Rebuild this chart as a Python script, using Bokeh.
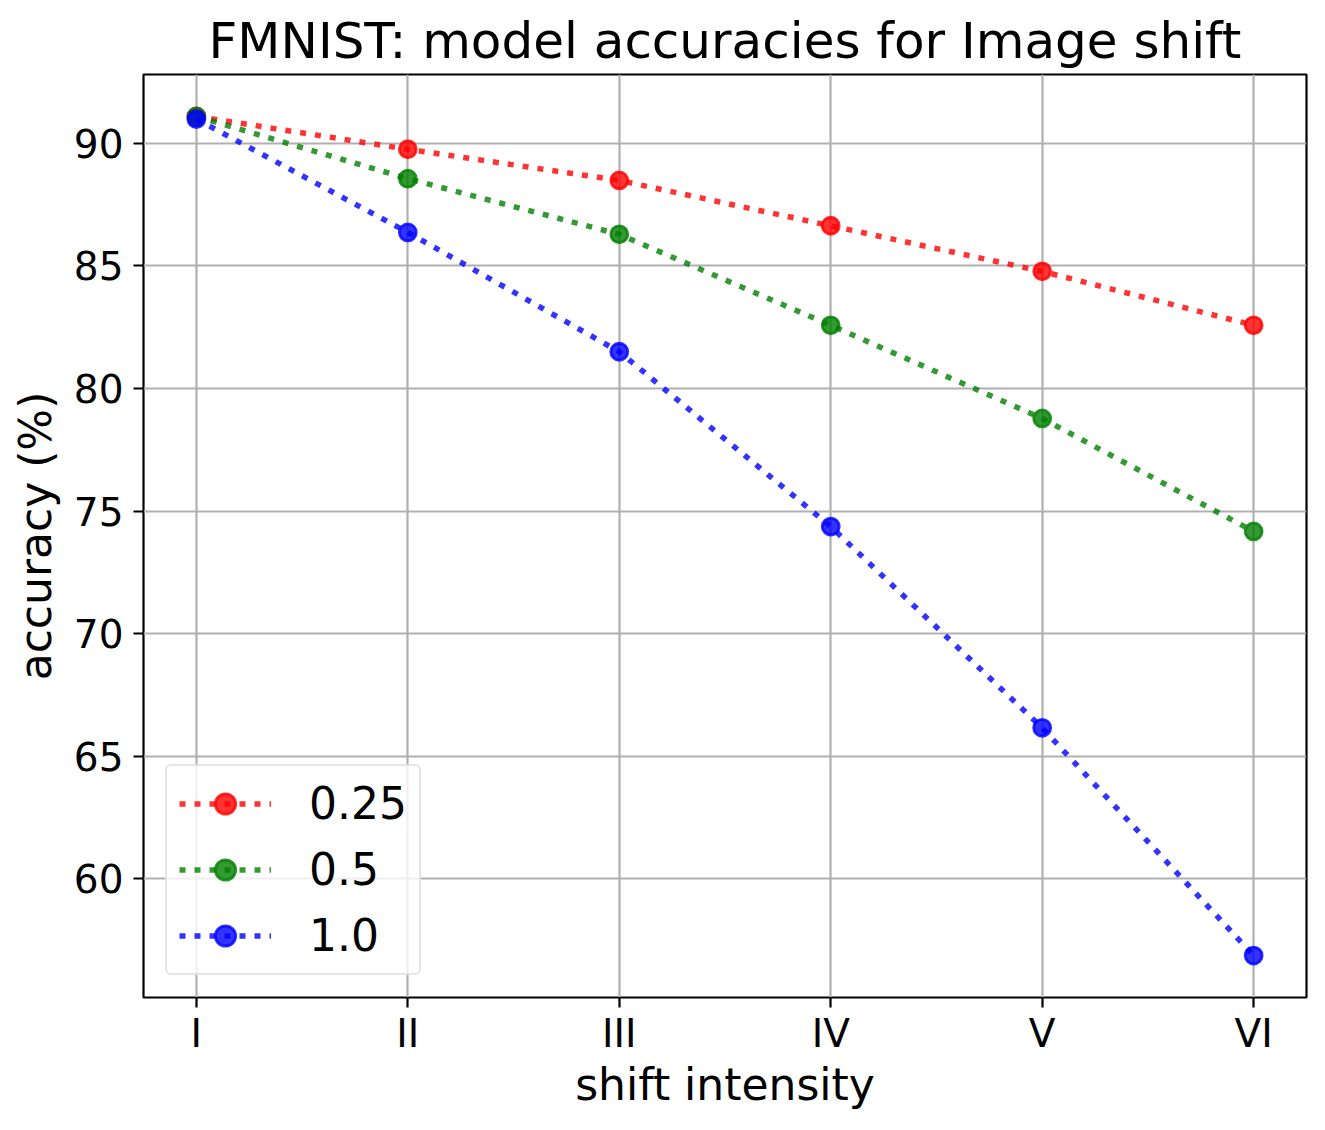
from bokeh.plotting import figure
from bokeh.models import Range1d, FixedTicker, Legend, LegendItem
from bokeh.embed import file_html
from bokeh.resources import INLINE

# ---- data ----
categories = ["I", "II", "III", "IV", "V", "VI"]
series_names = ["0.25", "0.5", "1.0"]
acc_025 = [91.1, 89.76, 88.49, 86.64, 84.78, 82.58]
acc_05 = [91.1, 88.56, 86.29, 82.58, 78.78, 74.17]
acc_10 = [90.99, 86.37, 81.5, 74.37, 66.16, 56.87]
y_ticks = [60, 65, 70, 75, 80, 85, 90]

colors = ["#ff0000", "#008000", "#0000ff"]
FONT = "DejaVu Sans"

xs = list(range(len(categories)))

p = figure(width=1318, height=1122, output_backend="svg", toolbar_location=None,
           x_range=Range1d(-0.25, 5.25), y_range=Range1d(55.16, 92.81),
           min_border_left=143, min_border_right=12, min_border_top=74,
           min_border_bottom=125)

p.title.text = "FMNIST: model accuracies for Image shift"
p.title.text_font = FONT
p.title.text_font_size = "50px"
p.title.text_font_style = "normal"
p.title.align = "center"
p.title.text_color = "black"

p.outline_line_color = "black"
p.outline_line_width = 2.2
p.outline_line_alpha = 1.0

for ax in (p.xaxis[0], p.yaxis[0]):
    ax.axis_line_color = None
    ax.major_tick_line_color = "black"
    ax.major_tick_line_width = 2.2
    ax.major_tick_out = 10
    ax.major_tick_in = 0
    ax.minor_tick_line_color = None
    ax.major_label_text_font = FONT
    ax.major_label_text_font_size = "39px"
    ax.major_label_text_color = "black"
    ax.axis_label_text_font = FONT
    ax.axis_label_text_font_size = "44px"
    ax.axis_label_text_font_style = "normal"
    ax.axis_label_text_color = "black"

p.xaxis.ticker = FixedTicker(ticks=xs)
p.xaxis.major_label_overrides = {i: c for i, c in enumerate(categories)}
p.xaxis.axis_label = "shift intensity"
p.xaxis.major_label_standoff = 3
p.xaxis.axis_label_standoff = 0

p.yaxis.ticker = FixedTicker(ticks=y_ticks)
p.yaxis.axis_label = "accuracy (%)"
p.yaxis.major_label_standoff = 10
p.yaxis.axis_label_standoff = 10

p.grid.grid_line_color = "#b0b0b0"
p.grid.grid_line_width = 2.2
p.xgrid.ticker = FixedTicker(ticks=xs)
p.ygrid.ticker = FixedTicker(ticks=y_ticks)

items = []
for name, vals, col in zip(series_names, [acc_025, acc_05, acc_10], colors):
    ln = p.line(xs, vals, line_color=col, line_width=5.5, line_dash="6 9", line_alpha=0.8)
    sc = p.scatter(xs, vals, size=17, fill_color=col, fill_alpha=0.8,
                   line_color=col, line_alpha=0.8, line_width=2.8)
    items.append(LegendItem(label=name, renderers=[ln, sc]))

legend = Legend(items=items, location="bottom_left")
legend.margin = 22
legend.padding = 12
legend.spacing = 15
legend.glyph_width = 92
legend.glyph_height = 51
legend.label_height = 51
legend.label_standoff = 38
legend.label_text_font = FONT
legend.label_text_font_size = "44px"
legend.label_text_color = "black"
legend.border_line_color = "#cccccc"
legend.border_line_width = 2
legend.border_radius = 6
legend.background_fill_color = "white"
legend.background_fill_alpha = 0.8
p.add_layout(legend)

open("out.html", "w").write(file_html(p, INLINE))
